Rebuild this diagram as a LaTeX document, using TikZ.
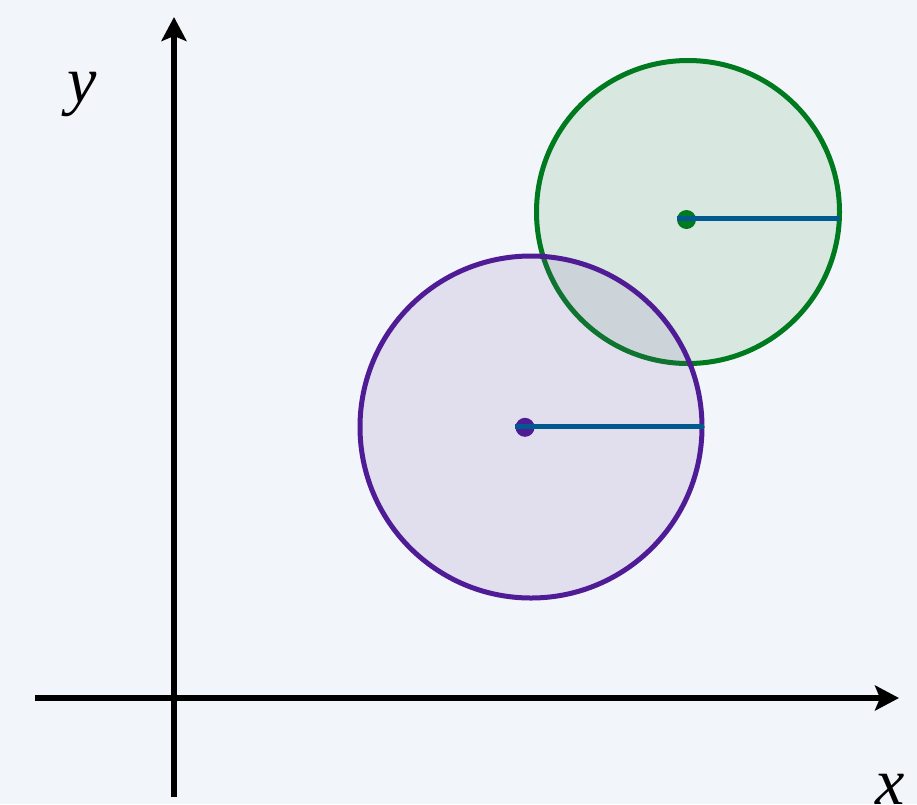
\documentclass[tikz,border=0pt]{standalone}
\usepackage{fontspec}
\setmainfont{Liberation Serif}
\usetikzlibrary{arrows.meta}
\definecolor{bg}{RGB}{242,245,249}
\definecolor{gstroke}{RGB}{0,122,30}
\definecolor{pstroke}{RGB}{80,28,150}
\definecolor{gfillc}{RGB}{50,141,65}
\definecolor{pfillc}{RGB}{114,77,169}
\definecolor{rline}{RGB}{0,90,143}
\tikzset{
  axis/.style={line width=5.5pt,-{Stealth[length=24pt,width=25pt,inset=5pt]}},
  disc/.style={circle,inner sep=0pt,line width=5pt},
  radius line/.style={line width=4.5pt,draw=rline},
  cdot/.style={circle,inner sep=0pt,minimum size=19pt},
  lab/.style={font=\fontsize{66}{66}\selectfont\itshape,inner sep=0pt}
}
\begin{document}
\begin{tikzpicture}[x=1pt,y=-1pt]
\fill[bg] (0,0) rectangle (917,804);
\useasboundingbox (0,0) rectangle (917,804);
% axes
\coordinate (xs) at (35,698);
\coordinate (xe) at (899,698);
\coordinate (ys) at (174,797);
\coordinate (ye) at (174,17);
\draw[axis] (xs) -- (xe);
\draw[axis] (ys) -- (ye);
\node[lab,anchor=base] (ylab) at (82,102) {y};
\node[lab,anchor=base] (xlab) at (890,804) {x};
% green circle
\node[disc,draw=gstroke,fill=gfillc,fill opacity=0.125,draw opacity=1,minimum size=303pt] (gc) at (688,212) {};
% purple circle
\node[disc,draw=pstroke,fill=pfillc,fill opacity=0.125,draw opacity=1,minimum size=342pt] (pc) at (531,427) {};
% green center dot and radius
\node[cdot,fill=gstroke] (gd) at (686.5,219.5) {};
\coordinate (ge) at (840,218.3);
\draw[radius line] (gd.west |- ge) -- (ge);
% purple center dot and radius
\node[cdot,fill=pstroke] (pd) at (525,427.3) {};
\coordinate (pe) at (704,426.7);
\draw[radius line] (pd.west |- pe) -- (pe);
\end{tikzpicture}
\end{document}
